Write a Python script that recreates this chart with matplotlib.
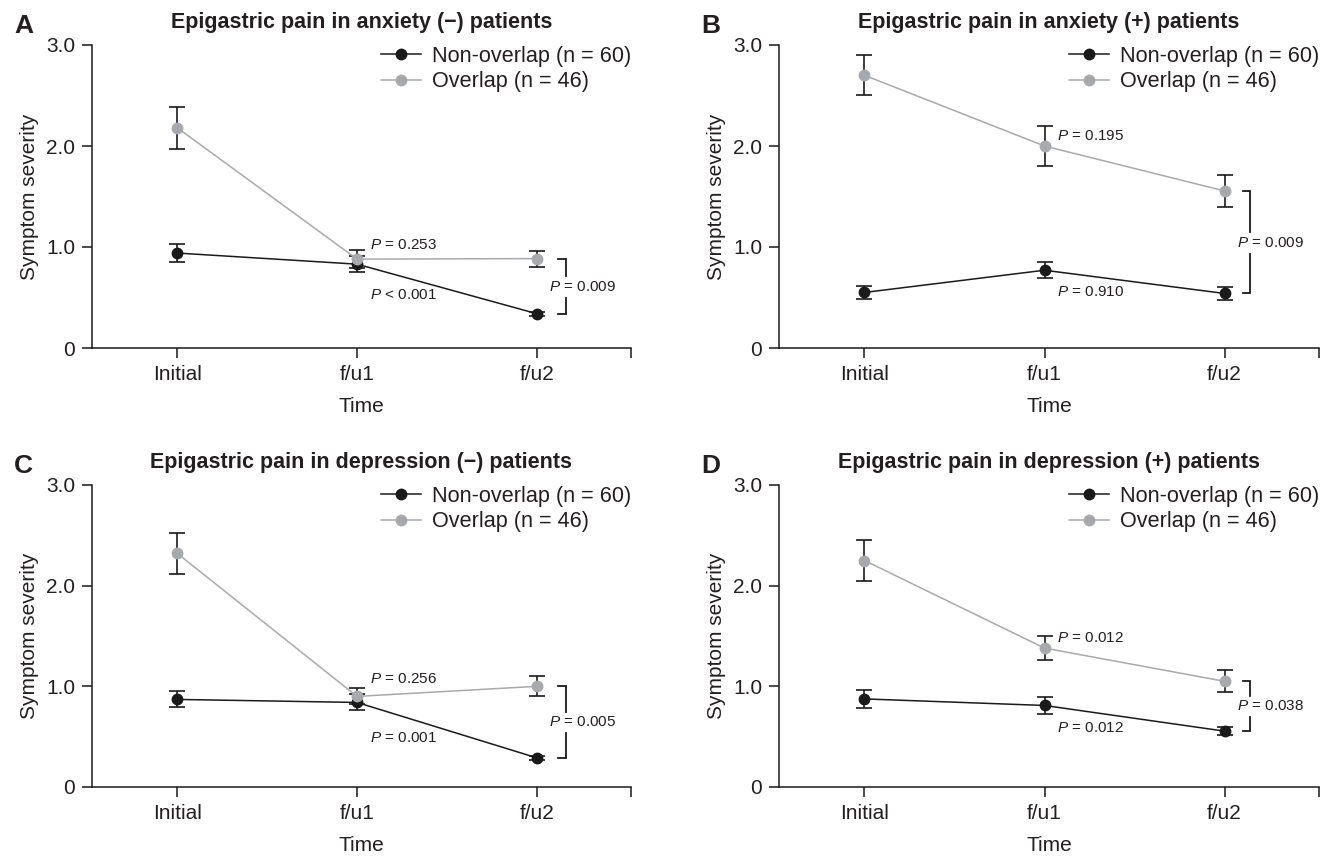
import matplotlib
matplotlib.use("Agg")
import matplotlib.pyplot as plt
from matplotlib.lines import Line2D
from matplotlib.ticker import FixedLocator

plt.rcParams['font.family'] = ['Liberation Sans', 'DejaVu Sans']
plt.rcParams['mathtext.fontset'] = 'custom'
plt.rcParams['mathtext.rm'] = 'Liberation Sans'
plt.rcParams['mathtext.it'] = 'Liberation Sans:italic'

# ---------------- data ----------------
time_labels = ['Initial', 'f/u1', 'f/u2']
series_labels = ['Non-overlap (n = 60)', 'Overlap (n = 46)']
panel_letters = ['A', 'B', 'C', 'D']
titles = ['Epigastric pain in anxiety (\u2212) patients',
          'Epigastric pain in anxiety (+) patients',
          'Epigastric pain in depression (\u2212) patients',
          'Epigastric pain in depression (+) patients']

A_non = [0.94, 0.83, 0.34]
A_non_err = [0.09, 0.08, 0.02]
A_ovl = [2.18, 0.88, 0.885]
A_ovl_err = [0.21, 0.09, 0.08]

B_non = [0.55, 0.77, 0.54]
B_non_err = [0.06, 0.08, 0.06]
B_ovl = [2.70, 2.00, 1.555]
B_ovl_err = [0.20, 0.20, 0.16]

C_non = [0.87, 0.84, 0.29]
C_non_err = [0.08, 0.08, 0.02]
C_ovl = [2.32, 0.90, 1.00]
C_ovl_err = [0.20, 0.08, 0.10]

D_non = [0.875, 0.81, 0.555]
D_non_err = [0.09, 0.08, 0.04]
D_ovl = [2.25, 1.38, 1.05]
D_ovl_err = [0.20, 0.12, 0.11]

# p-value texts: (upper at f/u1, lower at f/u1, between groups at f/u2)
p_upper = ['= 0.253', '= 0.195', '= 0.256', '= 0.012']
p_lower = ['< 0.001', '= 0.910', '= 0.001', '= 0.012']
p_group = ['= 0.009', '= 0.009', '= 0.005', '= 0.038']

yticks = [0, 1.0, 2.0, 3.0]
ytick_labels = ['0', '1.0', '2.0', '3.0']

# ---------------- style ----------------
W, H = 1337, 856
TXT = '#231f20'
DARK = '#1a1a1a'
GREY = '#a7a9ac'

fig = plt.figure(figsize=(W / 100, H / 100), dpi=100)

# axes boxes in pixels: left, top, right, bottom
boxes = [(92, 45, 631, 348), (779, 45, 1319, 348),
         (92, 485, 631, 787), (779, 485, 1319, 787)]
# text layout (annotation placement, in data units)
upper_y = [1.02, 2.10, 1.07, 1.48]
lower_y = [0.52, 0.555, 0.49, 0.59]
group_y = [0.605, 1.04, 0.645, 0.80]
brk_x = [(2.12, 2.165), (2.10, 2.14), (2.12, 2.165), (2.10, 2.14)]

panels = [(A_non, A_non_err, A_ovl, A_ovl_err),
          (B_non, B_non_err, B_ovl, B_ovl_err),
          (C_non, C_non_err, C_ovl, C_ovl_err),
          (D_non, D_non_err, D_ovl, D_ovl_err)]

x = list(range(len(time_labels)))
MS = 7.5

for i, (box, (non, non_e, ovl, ovl_e)) in enumerate(zip(boxes, panels)):
    l, t, r, b = box
    ax = fig.add_axes([l / W, 1 - b / H, (r - l) / W, (b - t) / H])

    ax.errorbar(x, non, yerr=non_e, color=DARK, marker='o', markersize=MS,
                lw=1.1, ecolor=DARK, elinewidth=1.2, capsize=5.5, capthick=1.2,
                zorder=3)
    ax.errorbar(x, ovl, yerr=ovl_e, color=GREY, marker='o', markersize=MS,
                lw=1.1, ecolor=DARK, elinewidth=1.2, capsize=5.5, capthick=1.2,
                zorder=4)

    ax.set_xlim(-0.475, 2.525)
    ax.set_ylim(0, 3.0)
    for s in ['top', 'right']:
        ax.spines[s].set_visible(False)
    for s in ['left', 'bottom']:
        ax.spines[s].set_color(DARK)
        ax.spines[s].set_linewidth(1.1)

    ax.set_xticks(x)
    ax.set_xticklabels(time_labels)
    ax.xaxis.set_minor_locator(FixedLocator([2.525]))
    ax.yaxis.set_major_locator(FixedLocator(yticks))
    ax.set_yticklabels(ytick_labels)
    ax.tick_params(axis='both', which='both', direction='out', length=7,
                   width=1.1, color=DARK, labelsize=15, labelcolor=TXT, pad=5)

    ax.set_xlabel('Time', fontsize=15, color=TXT)
    ax.xaxis.set_label_coords(0.5, -0.162)
    ax.set_ylabel('Symptom severity', fontsize=15, color=TXT)
    ax.yaxis.set_label_coords(-0.098, 0.5)

    ax.set_title(titles[i], fontsize=15.5, fontweight='bold', color=TXT, pad=12.5)
    fig.text((l - 78) / W, 1 - 14 / H - (t - 45) / H, panel_letters[i],
             fontsize=19, fontweight='bold', color=TXT, ha='left', va='top')

    handles = [Line2D([], [], color=DARK, marker='o', markersize=MS, lw=1.1),
               Line2D([], [], color=GREY, marker='o', markersize=MS, lw=1.1)]
    leg = ax.legend(handles, series_labels, loc='upper right',
                    bbox_to_anchor=(1.0, 0.997), frameon=False,
                    fontsize=15.6, handlelength=1.85, handletextpad=0.5,
                    labelspacing=0.2, borderpad=0, borderaxespad=0)
    for txt in leg.get_texts():
        txt.set_color(TXT)

    # p-value annotations
    ax.text(1.07, upper_y[i], r'$\mathit{P}$ ' + p_upper[i], fontsize=11,
            color=TXT, ha='left', va='center')
    ax.text(1.07, lower_y[i], r'$\mathit{P}$ ' + p_lower[i], fontsize=11,
            color=TXT, ha='left', va='center')

    # bracket between groups at f/u2
    top, bot = ovl[2], non[2]
    x0, x1 = brk_x[i]
    gy = group_y[i]
    gap = 0.105
    ax.plot([x0, x1, x1], [top, top, gy + gap], color=DARK, lw=1.3,
            solid_joinstyle='miter', clip_on=False)
    ax.plot([x0, x1, x1], [bot, bot, gy - gap], color=DARK, lw=1.3,
            solid_joinstyle='miter', clip_on=False)
    ax.text(2.255, gy, r'$\mathit{P}$ ' + p_group[i], fontsize=11,
            color=TXT, ha='center', va='center')

fig.savefig('out.png', dpi=100, facecolor='white')
